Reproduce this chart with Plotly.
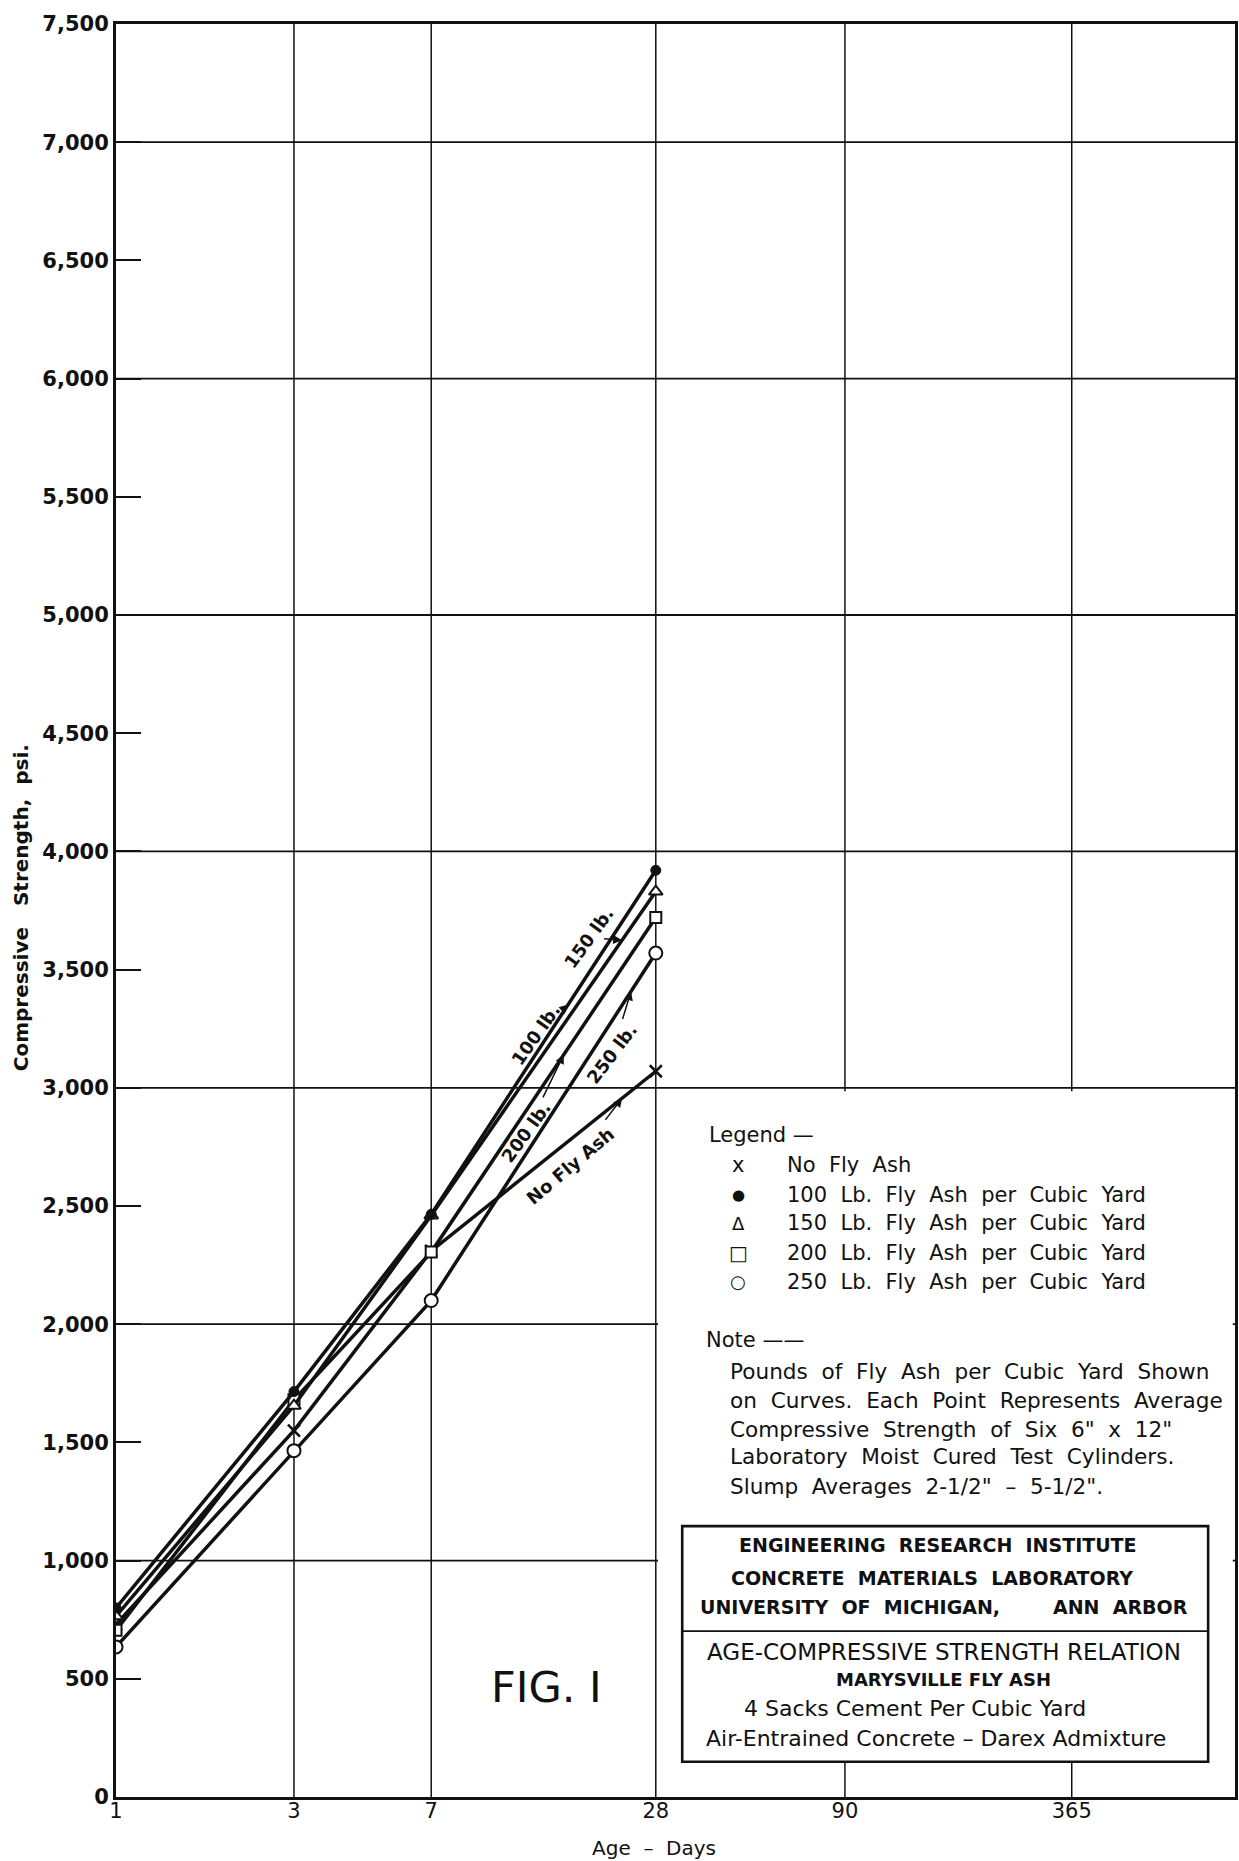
import math
import plotly.graph_objects as go

# ---------------- data ----------------
days = [1, 3, 7, 28]
no_fly_ash = [730, 1550, 2310, 3070]
fly_ash_100 = [800, 1715, 2465, 3920]
fly_ash_150 = [765, 1655, 2460, 3830]
fly_ash_200 = [705, 1680, 2305, 3720]
fly_ash_250 = [635, 1465, 2100, 3570]

series_names = [
    "No Fly Ash",
    "100 Lb. Fly Ash per Cubic Yard",
    "150 Lb. Fly Ash per Cubic Yard",
    "200 Lb. Fly Ash per Cubic Yard",
    "250 Lb. Fly Ash per Cubic Yard",
]
curve_labels = ["No Fly Ash", "100 lb.", "150 lb.", "200 lb.", "250 lb."]
legend_symbols = ["x", "●", "Δ", "□", "○"]

x_tick_values = [1, 3, 7, 28, 90, 365]
x_tick_labels = ["1", "3", "7", "28", "90", "365"]
x_grid_values = [3, 7, 28, 90, 365]
y_tick_values = [0, 500, 1000, 1500, 2000, 2500, 3000, 3500, 4000,
                 4500, 5000, 5500, 6000, 6500, 7000, 7500]
y_tick_labels = ["0", "500", "1,000", "1,500", "2,000", "2,500", "3,000", "3,500",
                 "4,000", "4,500", "5,000", "5,500", "6,000", "6,500", "7,000", "7,500"]
y_grid_values = [1000, 2000, 3000, 4000, 5000, 6000, 7000]

note_lines = [
    "Pounds of Fly Ash per Cubic Yard Shown",
    "on Curves. Each Point Represents Average",
    "Compressive Strength of Six 6\" x 12\"",
    "Laboratory Moist Cured Test Cylinders.",
    "Slump Averages 2-1/2\" – 5-1/2\".",
]
box_lines_top = [
    "ENGINEERING \u00a0RESEARCH \u00a0INSTITUTE",
    "CONCRETE \u00a0MATERIALS \u00a0LABORATORY",
    "UNIVERSITY \u00a0OF \u00a0MICHIGAN,\u00a0\u00a0\u00a0\u00a0\u00a0\u00a0\u00a0 ANN \u00a0ARBOR",
]
box_lines_bottom = [
    "AGE-COMPRESSIVE STRENGTH RELATION",
    "MARYSVILLE FLY ASH",
    "4 Sacks Cement Per Cubic Yard",
    "Air-Entrained Concrete – Darex Admixture",
]

series_values = [no_fly_ash, fly_ash_100, fly_ash_150, fly_ash_200, fly_ash_250]

# ---------------- styles ----------------
FONT = "DejaVu Sans"
BLACK = "#111111"
marker_styles = [
    dict(symbol="x-thin", size=12, color=BLACK, line=dict(width=2.6, color=BLACK)),
    dict(symbol="circle", size=10, color=BLACK, line=dict(width=1, color=BLACK)),
    dict(symbol="triangle-up", size=12, color="white", line=dict(width=2, color=BLACK)),
    dict(symbol="square", size=11, color="white", line=dict(width=2, color=BLACK)),
    dict(symbol="circle", size=13, color="white", line=dict(width=2, color=BLACK)),
]
legend_symbol_sizes = [21, 15, 18, 20, 18]
draw_order = [0, 4, 3, 2, 1]

# label placement: (fraction along 7->28 segment for arrow tip, text x (log10), text y, angle)
label_place = [
    (0.85, 1.2184, 2673, -40),
    (0.61, 1.1257, 3225, -55),
    (0.85, 1.2680, 3635, -54),
    (0.59, 1.1000, 2815, -54),
    (0.89, 1.3297, 3145, -53),
]

fig = go.Figure()
for i in draw_order:
    fig.add_trace(go.Scatter(
        x=days, y=series_values[i], mode="lines+markers", name=series_names[i],
        line=dict(color=BLACK, width=3.5), marker=marker_styles[i],
        showlegend=False,
    ))

shapes = []
# horizontal grid at thousands
for v in y_grid_values:
    shapes.append(dict(type="line", xref="paper", x0=0, x1=1, yref="y", y0=v, y1=v,
                       line=dict(color=BLACK, width=1.8), layer="below"))
# vertical grid at the day ticks
for v in x_grid_values:
    shapes.append(dict(type="line", xref="x", x0=v, x1=v, yref="paper", y0=0, y1=1,
                       line=dict(color=BLACK, width=1.5), layer="below"))
# blank notes area (hides grid right of 28-day line, below 3,000)
x28 = math.log10(28) / 3.0
shapes.append(dict(type="rect", xref="paper", x0=x28 + 0.002, x1=0.998,
                   yref="paper", y0=0.0199, y1=0.398,
                   fillcolor="white", line=dict(width=0), layer="below"))
# title box
shapes.append(dict(type="rect", xref="paper", yref="paper", x0=0.506, x1=0.976,
                   y0=0.0199, y1=0.1528, fillcolor="white",
                   line=dict(color=BLACK, width=2.6), layer="above"))
shapes.append(dict(type="line", xref="paper", yref="paper", x0=0.506, x1=0.976,
                   y0=0.0935, y1=0.0935, line=dict(color=BLACK, width=1.8), layer="above"))

annotations = []


def spaced(s):
    return s.replace(" ", " \u00a0")


# curve labels with leaders
for i, (t, tx, ty, ang) in enumerate(label_place):
    ys = series_values[i]
    lx = math.log10(days[2]) + t * (math.log10(days[3]) - math.log10(days[2]))
    ly = ys[2] + t * (ys[3] - ys[2])
    annotations.append(dict(
        x=lx, y=ly, xref="x", yref="y", ax=tx, ay=ty, axref="x", ayref="y",
        text=curve_labels[i], textangle=ang, showarrow=True, arrowhead=2,
        arrowsize=1.2, arrowwidth=1.5, arrowcolor=BLACK, standoff=0, startstandoff=1,
        font=dict(family=FONT, size=18, color=BLACK, weight="bold"),
    ))

# legend
annotations.append(dict(x=0.5281, y=0.3734, xref="paper", yref="paper", xanchor="left",
                        yanchor="middle", showarrow=False, text="Legend —",
                        font=dict(family=FONT, size=21, color=BLACK)))
legend_rows_y = [0.3565, 0.3395, 0.3237, 0.3068, 0.2905]
for sym, ssz, name, yy in zip(legend_symbols, legend_symbol_sizes, series_names, legend_rows_y):
    annotations.append(dict(x=0.556, y=yy, xref="paper", yref="paper", xanchor="center",
                            yanchor="middle", showarrow=False, text=sym,
                            font=dict(family=FONT, size=ssz, color=BLACK)))
    annotations.append(dict(x=0.598, y=yy, xref="paper", yref="paper", xanchor="left",
                            yanchor="middle", showarrow=False, text=spaced(name),
                            font=dict(family=FONT, size=21, color=BLACK)))

# note
annotations.append(dict(x=0.5256, y=0.2578, xref="paper", yref="paper", xanchor="left",
                        yanchor="middle", showarrow=False, text="Note ——",
                        font=dict(family=FONT, size=21, color=BLACK)))
note_y = [0.2399, 0.2239, 0.2070, 0.1919, 0.1750]
for line, yy in zip(note_lines, note_y):
    annotations.append(dict(x=0.547, y=yy, xref="paper", yref="paper", xanchor="left",
                            yanchor="middle", showarrow=False, text=spaced(line),
                            font=dict(family=FONT, size=21.6, color=BLACK)))

# title box text
top_pos = [(0.7344, 0.1421), (0.729, 0.1234), (0.740, 0.1073)]
for line, (xx, yy) in zip(box_lines_top, top_pos):
    annotations.append(dict(x=xx, y=yy, xref="paper", yref="paper", xanchor="center",
                            yanchor="middle", showarrow=False, text=line,
                            font=dict(family=FONT, size=19, color=BLACK, weight="bold")))
bottom_pos = [(0.740, 0.0820, 23, "normal"), (0.7394, 0.0664, 18, "bold"),
              (0.714, 0.0500, 22, "normal"), (0.7326, 0.0331, 22, "normal")]
for line, (xx, yy, sz, wt) in zip(box_lines_bottom, bottom_pos):
    annotations.append(dict(x=xx, y=yy, xref="paper", yref="paper", xanchor="center",
                            yanchor="middle", showarrow=False, text=line,
                            font=dict(family=FONT, size=sz, color=BLACK, weight=wt)))

# FIG. 1
annotations.append(dict(x=0.385, y=0.0623, xref="paper", yref="paper", xanchor="center",
                        yanchor="middle", showarrow=False, text="FIG. I",
                        font=dict(family=FONT, size=43, color=BLACK)))

# axis titles
annotations.append(dict(x=-0.0847, y=0.5014, xref="paper", yref="paper", xanchor="center",
                        yanchor="middle", showarrow=False, textangle=-90,
                        text="Compressive \u00a0\u00a0Strength, \u00a0psi.",
                        font=dict(family=FONT, size=20, color=BLACK, weight="bold")))
annotations.append(dict(x=0.4804, y=-0.0285, xref="paper", yref="paper", xanchor="center",
                        yanchor="middle", showarrow=False, text="Age \u00a0– \u00a0Days",
                        font=dict(family=FONT, size=20, color=BLACK)))

fig.update_layout(
    width=1239, height=1861,
    margin=dict(l=116, r=1, t=24, b=64),
    plot_bgcolor="white", paper_bgcolor="white",
    shapes=shapes, annotations=annotations,
    showlegend=False,
    xaxis=dict(
        type="log", range=[0, 3], tickvals=x_tick_values, ticktext=x_tick_labels,
        showgrid=False, ticks="", ticklabelstandoff=-7,
        showline=True, linecolor=BLACK, linewidth=3, mirror=True, zeroline=False,
        tickfont=dict(family=FONT, size=21, color=BLACK),
    ),
    yaxis=dict(
        range=[0, 7500], tickvals=y_tick_values, ticktext=y_tick_labels,
        showgrid=False, ticks="inside", ticklen=25, tickwidth=1.5, tickcolor=BLACK,
        showline=True, linecolor=BLACK, linewidth=3, mirror=True, zeroline=False,
        tickfont=dict(family=FONT, size=21, color=BLACK, weight="bold"),
    ),
)

fig.write_html(
    "out.html",
    config={"displayModeBar": False},
    post_script="document.body.style.margin='0px';document.body.style.overflow='hidden';",
)
